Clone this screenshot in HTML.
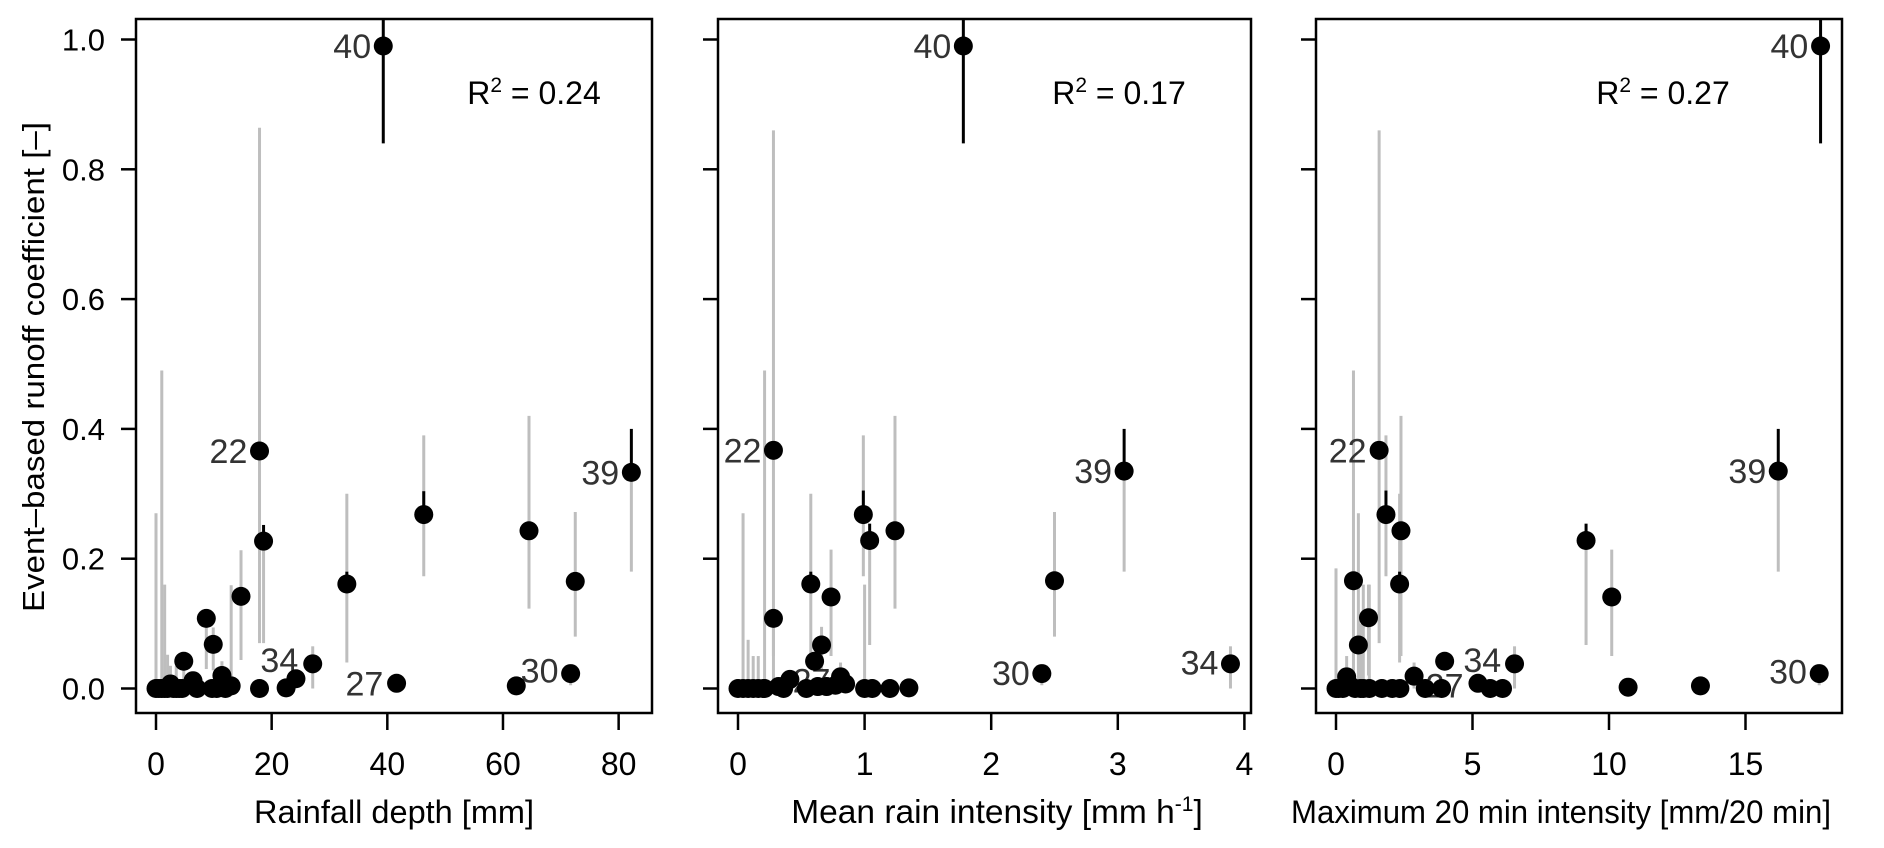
<!DOCTYPE html>
<html><head><meta charset="utf-8"><style>
html,body{margin:0;padding:0;background:#fff;}
svg{display:block;font-family:"Liberation Sans",Arial,sans-serif;}
</style></head><body>
<svg id="chart" width="1884" height="848" viewBox="0 0 1884 848" xmlns="http://www.w3.org/2000/svg">
<text x="0" y="0" transform="translate(44,367) rotate(-90)" text-anchor="middle" font-size="31" textLength="490" lengthAdjust="spacingAndGlyphs" fill="#000">Event‒based runoff coefficient [‒]</text>
</svg>
<script>
// ---- Panel 1: Rainfall depth ----
const p1x  = [39.3,17.9,18.6,14.7,8.7,9.9,4.8,33,46.3,64.5,72.5,71.7,62.3,41.6,27.1,24.2,22.5,17.9,13.0,11.4,9.7,7.1,6.4,2.5,0,0.5,1.0,1.5,2.0,3.0,3.5,4.0,4.5,82.2,12.0,10.5];
const p1y  = [0.99,0.366,0.227,0.142,0.108,0.068,0.042,0.161,0.268,0.243,0.165,0.023,0.004,0.008,0.038,0.015,0.001,0,0.004,0.02,0,0,0.012,0.007,0,0,0,0,0,0,0,0,0,0.333,0,0];
const p1lo = [null,0.07,0.07,0.044,0.03,0.028,0.01,0.04,0.173,0.123,0.08,0.005,null,null,0,null,null,null,0,0,null,null,null,0,0,null,0,0,0,null,0,null,null,0.18,null,null];
const p1hi = [null,0.864,0.227,0.213,0.11,0.094,0.05,0.30,0.39,0.42,0.272,0.023,null,null,0.065,null,null,null,0.159,0.042,null,null,null,0.035,0.27,null,0.49,0.16,0.052,null,0.035,null,null,0.333,null,null];
const p1blo= [0.84,null,0.227,null,null,null,null,0.161,0.268,null,null,null,null,null,null,null,null,null,null,null,null,null,null,null,null,null,null,null,null,null,null,null,null,0.333,null,null];
const p1bhi= [1.04,null,0.252,null,null,null,null,0.18,0.304,null,null,null,null,null,null,null,null,null,null,null,null,null,null,null,null,null,null,null,null,null,null,null,null,0.40,null,null];
const p1labels = ["40","22","39","34","27","30"];
const p1labX = [37.2,15.8,80.1,24.6,39.3,69.6];
const p1labY = [0.99,0.366,0.333,0.044,0.008,0.028];
const p1ticks = [0,20,40,60,80];

// ---- Panel 2: Mean rain intensity ----
const p2x  = [1.78,0.28,0.28,0.21,0.575,0.735,0.99,1.04,1.24,2.50,3.05,2.40,3.89,0.66,0.605,0.81,0.41,0.04,0.08,0.12,0.16,0.0,0.2,0.32,0.54,0.63,0.70,0.77,0.85,1.0,1.06,1.2,1.35,0.36];
const p2y  = [0.99,0.367,0.108,0,0.161,0.141,0.268,0.228,0.243,0.166,0.335,0.023,0.038,0.067,0.042,0.018,0.014,0,0,0,0,0,0,0.003,0,0.003,0.003,0.005,0.007,0,0,0,0.001,0];
const p2lo = [null,0.05,0,0,0.04,0.05,0.173,0.067,0.123,0.08,0.18,0.005,0,0.03,null,0,null,0,0,0,0,null,null,null,null,null,null,null,null,0,null,null,null,null];
const p2hi = [null,0.86,0.108,0.49,0.30,0.214,0.39,0.228,0.42,0.272,0.335,0.023,0.065,0.095,null,0.04,null,0.27,0.075,0.05,0.05,null,null,null,null,null,null,null,null,0.16,null,null,null,null];
const p2blo= [0.84,null,null,null,0.161,null,0.268,0.228,null,null,0.335,null,null,null,null,null,null,null,null,null,null,null,null,null,null,null,null,null,null,null,null,null,null,null];
const p2bhi= [1.04,null,null,null,0.18,null,0.305,0.254,null,null,0.40,null,null,null,null,null,null,null,null,null,null,null,null,null,null,null,null,null,null,null,null,null,null,null];
const p2labels = ["40","22","39","30","34","27"];
const p2labX = [1.685,0.185,2.955,2.305,3.795,0.73];
const p2labY = [0.99,0.367,0.335,0.024,0.04,0.012];
const p2ticks = [0,1,2,3,4];

// ---- Panel 3: Maximum 20 min intensity ----
const p3x  = [17.75,1.58,1.83,2.38,2.33,0.64,1.19,0.82,9.16,10.1,16.2,17.7,6.54,3.98,10.7,13.35,5.2,5.65,6.1,3.87,3.27,2.86,2.34,2.06,1.68,1.22,0.39,0.1,0,0.25,0.5,0.7,0.9,1.0];
const p3y  = [0.99,0.367,0.268,0.243,0.161,0.166,0.109,0.067,0.228,0.141,0.335,0.023,0.038,0.042,0.002,0.004,0.008,0,0,0,0,0.019,0,0,0,0,0.018,0,0,0,0.005,0,0,0];
const p3lo = [null,0.07,0.173,0.05,0.04,0,0.02,0,0.067,0.05,0.18,0.005,0,null,null,null,null,null,null,null,null,0,null,null,null,0,0,null,0,null,null,null,0,0];
const p3hi = [null,0.86,0.39,0.42,0.30,0.49,0.16,0.27,0.228,0.214,0.335,0.023,0.065,null,null,null,null,null,null,null,null,0.04,null,null,null,0.16,0.05,null,0.185,null,null,null,0.1,0.16];
const p3blo= [0.84,null,0.268,null,0.161,null,null,null,0.228,null,0.335,null,null,null,null,null,null,null,null,null,null,null,null,null,null,null,null,null,null,null,null,null,null,null];
const p3bhi= [1.04,null,0.305,null,0.18,null,null,null,0.254,null,0.40,null,null,null,null,null,null,null,null,null,null,null,null,null,null,null,null,null,null,null,null,null,null,null];
const p3labels = ["40","22","39","30","34","27"];
const p3labX = [17.3,1.12,15.76,17.25,6.05,4.67];
const p3labY = [0.99,0.367,0.335,0.026,0.044,0.005];
const p3ticks = [0,5,10,15];

const yTicks = [0,0.2,0.4,0.6,0.8,1.0];
const yTickLabels = ["0.0","0.2","0.4","0.6","0.8","1.0"];
const r2Labels = ["0.24","0.17","0.27"];
const xTitles = ["Rainfall depth [mm]","Mean rain intensity [mm h","Maximum 20 min intensity [mm/20 min]"];

const NS = "http://www.w3.org/2000/svg";
const svg = document.getElementById("chart");
const TOP = 19, BOT = 713, FS = 32;
const yS = v => 688.5 - v * 649;

function mk(tag, attrs, parent) {
  const e = document.createElementNS(NS, tag);
  for (const k in attrs) e.setAttribute(k, attrs[k]);
  (parent || svg).appendChild(e);
  return e;
}

const panels = [
  {L:136, R:652, x0:156, k:5.783, x:p1x, y:p1y, lo:p1lo, hi:p1hi, blo:p1blo, bhi:p1bhi, lab:p1labels, lx:p1labX, ly:p1labY, ticks:p1ticks, r2x:534, tw:280, tx:394},
  {L:718, R:1251, x0:738, k:126.6, x:p2x, y:p2y, lo:p2lo, hi:p2hi, blo:p2blo, bhi:p2bhi, lab:p2labels, lx:p2labX, ly:p2labY, ticks:p2ticks, r2x:1119, tw:0, tx:997},
  {L:1316, R:1842, x0:1336, k:27.3, x:p3x, y:p3y, lo:p3lo, hi:p3hi, blo:p3blo, bhi:p3bhi, lab:p3labels, lx:p3labX, ly:p3labY, ticks:p3ticks, r2x:1663, tw:540, tx:1561}
];

panels.forEach((p, pi) => {
  const xS = v => p.x0 + v * p.k;
  const g = mk("g", {});
  
  
  const cid = "clip" + pi;
  const cp = mk("clipPath", {id: cid}, g);
  mk("rect", {x: p.L, y: TOP, width: p.R - p.L, height: BOT - TOP}, cp);
  const data = mk("g", {"clip-path": "url(#" + cid + ")"}, g);
  
  
  p.x.forEach((xv, i) => {
    if (p.lo[i] === null) return;
    const l = mk("line", {x1: xS(xv), x2: xS(xv), y1: yS(p.lo[i]), y2: yS(p.hi[i]), stroke: "#bebebe", "stroke-width": 3}, data);
    
    
  });
  p.x.forEach((xv, i) => {
    if (p.blo[i] === null) return;
    const l = mk("line", {x1: xS(xv), x2: xS(xv), y1: yS(p.blo[i]), y2: yS(p.bhi[i]), stroke: "#000", "stroke-width": 3}, data);
    
    
  });
  p.lab.forEach((t, i) => {
    const tx = mk("text", {x: xS(p.lx[i]), y: yS(p.ly[i]) + 12, "text-anchor": "end", "font-size": 34, fill: "#333"}, data);
    tx.textContent = t;
    
    
  });
  p.x.forEach((xv, i) => {
    const c = mk("circle", {cx: xS(xv), cy: yS(p.y[i]), r: 9.5, fill: "#000"}, data);
    
    
  });
  const box = mk("rect", {x: p.L, y: TOP, width: p.R - p.L, height: BOT - TOP, fill: "none", stroke: "#000", "stroke-width": 2.5}, g);
  
  
  yTicks.forEach((v, i) => {
    const t = mk("line", {x1: p.L - 15, x2: p.L, y1: yS(v), y2: yS(v), stroke: "#000", "stroke-width": 2.5}, g);
    
    
    if (pi === 0) {
      const tl = mk("text", {x: 105, y: yS(v) + 11, "text-anchor": "end", "font-size": 31, fill: "#000"}, g);
      tl.textContent = yTickLabels[i];
      
      
    }
  });
  p.ticks.forEach(v => {
    const t = mk("line", {x1: xS(v), x2: xS(v), y1: 713, y2: 730, stroke: "#000", "stroke-width": 2.5}, g);
    
    
    const tl = mk("text", {x: xS(v), y: 775, "text-anchor": "middle", "font-size": FS, fill: "#000"}, g);
    tl.textContent = String(v);
    
    
  });
  const xt = mk("text", {x: p.tx, y: 823, "text-anchor": "middle", "font-size": pi === 1 ? 33.5 : FS, fill: "#000"}, g);
  
  
  if (pi === 1) {
    xt.textContent = xTitles[1];
    const s = mk("tspan", {dy: -12, "font-size": 21}, xt); s.textContent = "-1";
    const e = mk("tspan", {dy: 12}, xt); e.textContent = "]";
  } else {
    xt.textContent = xTitles[pi];
    xt.setAttribute("textLength", p.tw);
    xt.setAttribute("lengthAdjust", "spacingAndGlyphs");
  }
  const r = mk("text", {x: p.r2x, y: 104, "text-anchor": "middle", "font-size": FS, fill: "#000"}, g);
  
  
  r.textContent = "R";
  const sp = mk("tspan", {dy: -12, "font-size": 21}, r); sp.textContent = "2";
  const rest = mk("tspan", {dy: 12}, r); rest.textContent = " = " + r2Labels[pi];
});
</script>
</body></html>
